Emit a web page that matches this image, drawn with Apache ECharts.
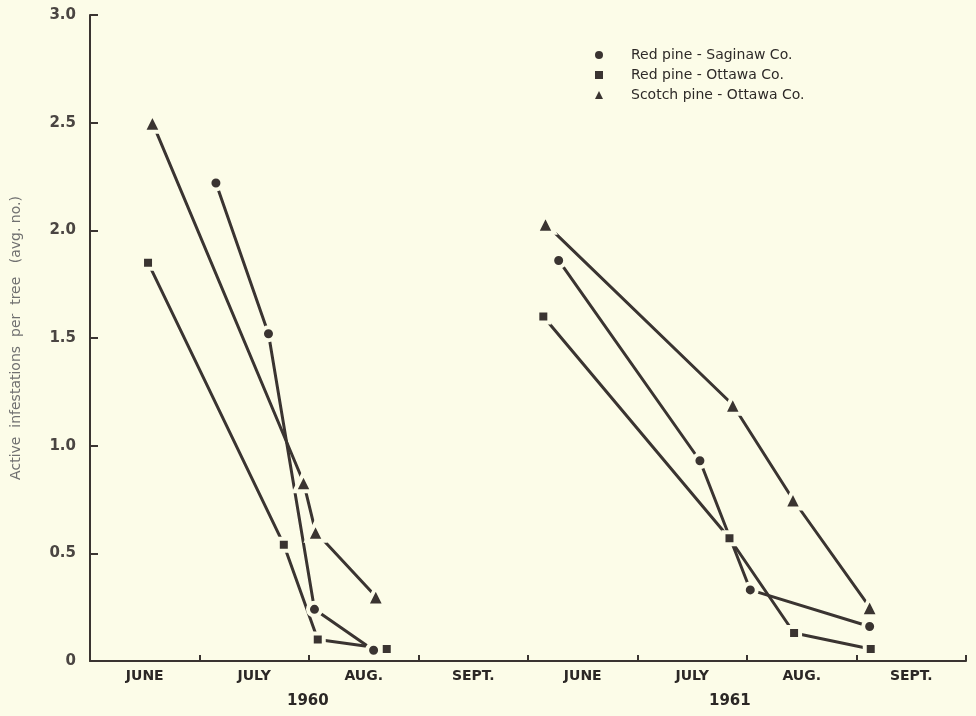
<!DOCTYPE html>
<html>
<head>
<meta charset="utf-8">
<script src="https://cdn.jsdelivr.net/npm/echarts@6/dist/echarts.min.js"></script>
<style>
html,body{margin:0;padding:0;background:#fcfce8;}
#chart{width:976px;height:716px;}
</style>
</head>
<body>
<div id="chart"></div>
<script>
// x values are in months from the start of June 1960 (0) to the end of Sept. 1961 (8)
const monthLabels = ['JUNE', 'JULY', 'AUG.', 'SEPT.', 'JUNE', 'JULY', 'AUG.', 'SEPT.'];
const yearLabels = ['1960', '1961'];
const seriesNames = ['Red pine - Saginaw Co.', 'Red pine - Ottawa Co.', 'Scotch pine - Ottawa Co.'];

const saginawX1960 = [1.15, 1.63, 2.05, 2.59];
const saginawY1960 = [2.22, 1.52, 0.24, 0.05];
const saginawX1961 = [4.28, 5.57, 6.03, 7.12];
const saginawY1961 = [1.86, 0.93, 0.33, 0.16];

const ottawaX1960 = [0.53, 1.77, 2.08, 2.71];
const ottawaY1960 = [1.85, 0.54, 0.10, 0.056];
const ottawaX1961 = [4.14, 5.84, 6.43, 7.13];
const ottawaY1961 = [1.60, 0.57, 0.13, 0.056];

const scotchX1960 = [0.57, 1.95, 2.06, 2.61];
const scotchY1960 = [2.50, 0.83, 0.60, 0.30];
const scotchX1961 = [4.16, 5.87, 6.42, 7.12];
const scotchY1961 = [2.03, 1.19, 0.75, 0.25];

const BG = '#fcfce8';
const INK = '#3a3431';

function pairs(xs, ys) { return xs.map((x, i) => [x, ys[i]]); }

function mkSeries(name, symbol, size, xs, ys) {
  return {
    name: name,
    type: 'line',
    xAxisIndex: 0,
    data: pairs(xs, ys),
    symbol: symbol,
    symbolSize: size,
    lineStyle: { color: INK, width: 3 },
    itemStyle: { color: INK, borderColor: BG, borderWidth: 4 },
    emphasis: { disabled: true },
    animation: false
  };
}

const chart = echarts.init(document.getElementById('chart'));
chart.setOption({
  backgroundColor: BG,
  animation: false,
  textStyle: { fontFamily: 'DejaVu Sans' },
  grid: { left: 90, right: 10, top: 15, bottom: 55 },
  legend: {
    orient: 'vertical',
    left: 590,
    top: 43,
    itemGap: 6,
    itemWidth: 8,
    itemHeight: 8,
    itemStyle: { borderWidth: 0, color: INK },
    lineStyle: { width: 0 },
    data: [
      { name: seriesNames[0], icon: 'circle' },
      { name: seriesNames[1], icon: 'rect' },
      { name: seriesNames[2], icon: 'triangle' }
    ],
    formatter: n => '{t|' + n + '}',
    textStyle: {
      color: '#2e2a28',
      fontSize: 14,
      rich: { t: { fontSize: 14, color: '#2e2a28', padding: [0, 0, 0, 23], fontFamily: 'DejaVu Sans' } }
    }
  },
  xAxis: [
    {
      type: 'value', min: 0, max: 8, interval: 1,
      axisLine: { show: false }, axisTick: { show: false },
      axisLabel: { show: false }, splitLine: { show: false }
    },
    {
      type: 'category', data: monthLabels, position: 'bottom', boundaryGap: true,
      axisLine: { show: true, lineStyle: { color: INK, width: 2 } },
      axisTick: { show: true, inside: true, length: 6, lineStyle: { color: INK, width: 2 } },
      axisLabel: { color: '#2b2725', fontSize: 14, fontWeight: 'bold', margin: 8 },
      splitLine: { show: false }
    }
  ],
  yAxis: {
    type: 'value', min: 0, max: 3, interval: 0.5,
    name: 'Active  infestations  per  tree   (avg. no.)',
    nameLocation: 'middle', nameGap: 67,
    nameTextStyle: { color: '#707070', fontSize: 14 },
    axisLine: { show: true, lineStyle: { color: INK, width: 2 } },
    axisTick: { show: true, inside: true, length: 8, lineStyle: { color: INK, width: 2 } },
    axisLabel: {
      color: '#4a4542', fontSize: 15, fontWeight: 'bold', margin: 14,
      formatter: v => v === 0 ? '0' : v.toFixed(1)
    },
    splitLine: { show: false }
  },
  graphic: [
    { type: 'text', left: 287, top: 694, style: { text: yearLabels[0], fontSize: 15, fontWeight: 'bold', fill: '#2b2725', fontFamily: 'DejaVu Sans' } },
    { type: 'text', left: 709, top: 694, style: { text: yearLabels[1], fontSize: 15, fontWeight: 'bold', fill: '#2b2725', fontFamily: 'DejaVu Sans' } }
  ],
  series: [
    mkSeries(seriesNames[0], 'circle', 13, saginawX1960, saginawY1960),
    mkSeries(seriesNames[0], 'circle', 13, saginawX1961, saginawY1961),
    mkSeries(seriesNames[1], 'rect', 12, ottawaX1960, ottawaY1960),
    mkSeries(seriesNames[1], 'rect', 12, ottawaX1961, ottawaY1961),
    mkSeries(seriesNames[2], 'triangle', 18, scotchX1960, scotchY1960),
    mkSeries(seriesNames[2], 'triangle', 18, scotchX1961, scotchY1961)
  ]
});
</script>
</body>
</html>
